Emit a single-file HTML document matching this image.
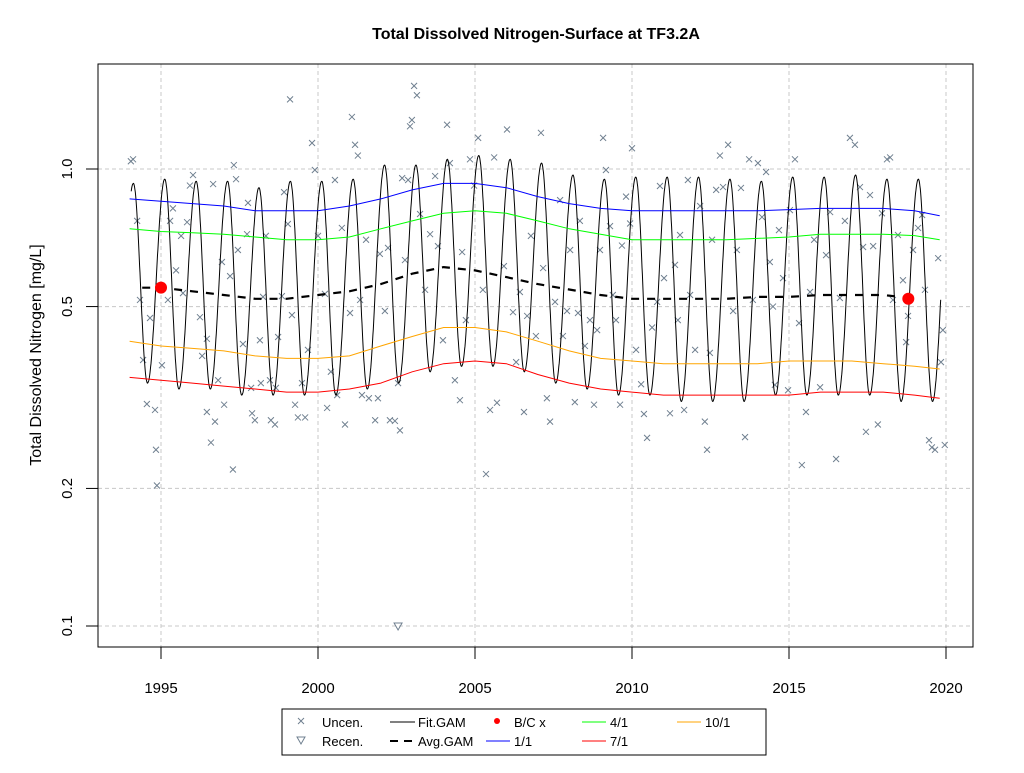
<!DOCTYPE html>
<html><head><meta charset="utf-8"><style>
body{margin:0;background:#fff;width:1024px;height:768px;overflow:hidden}
svg{font-family:"Liberation Sans",Arial,sans-serif}
</style></head><body>
<svg id="chart" width="1024" height="768" xmlns="http://www.w3.org/2000/svg">
<text x="536" y="39" text-anchor="middle" font-size="16" font-weight="bold">Total Dissolved Nitrogen-Surface at TF3.2A</text>
<text transform="translate(41,355) rotate(-90)" text-anchor="middle" font-size="16">Total Dissolved Nitrogen [mg/L]</text>
<g id="grid"></g>
<g id="axes"></g>
<g id="marks"></g>
<rect x="98" y="64" width="875" height="583" fill="none" stroke="#000" stroke-width="1"/>
<g>
<rect x="282" y="709" width="484" height="46" fill="#fff" stroke="#000"/>
<g><path d="M298,718 l6,6 M304,718 l-6,6" stroke="#708090"/><text x="322" y="727" font-size="13">Uncen.</text></g>
<g><path d="M297,737 h8 l-4,7 z" fill="none" stroke="#708090"/><text x="322" y="746" font-size="13">Recen.</text></g>
<g><line x1="390" y1="722" x2="415" y2="722" stroke="#000"/><text x="418" y="727" font-size="13">Fit.GAM</text></g>
<g><line x1="390" y1="741" x2="415" y2="741" stroke="#000" stroke-width="2" stroke-dasharray="8,6"/><text x="418" y="746" font-size="13">Avg.GAM</text></g>
<g><circle cx="497" cy="721" r="3" fill="#f00"/><text x="514" y="727" font-size="13">B/C x</text></g>
<g><line x1="486" y1="741" x2="510" y2="741" stroke="#00f"/><text x="514" y="746" font-size="13">1/1</text></g>
<g><line x1="582" y1="722" x2="606" y2="722" stroke="#0f0"/><text x="610" y="727" font-size="13">4/1</text></g>
<g><line x1="582" y1="741" x2="606" y2="741" stroke="#f00"/><text x="610" y="746" font-size="13">7/1</text></g>
<g><line x1="677" y1="722" x2="701" y2="722" stroke="#ffa500"/><text x="705" y="727" font-size="13">10/1</text></g>
</g>
</svg>
<script>
const xTicks=[1995,2000,2005,2010,2015,2020];
const yTicks=[0.1,0.2,0.5,1.0];
const yTickLabels=["0.1","0.2","0.5","1.0"];
const obsYears=[1994.04,1994.11,1994.24,1994.33,1994.43,1994.55,1994.65,1994.81,1994.84,1994.87,1995.03,1995.22,1995.29,1995.38,1995.48,1995.64,1995.70,1995.83,1995.92,1996.02,1996.24,1996.31,1996.46,1996.46,1996.59,1996.66,1996.72,1996.82,1996.94,1997.01,1997.20,1997.29,1997.32,1997.39,1997.45,1997.61,1997.74,1997.77,1997.87,1997.90,1997.99,1998.15,1998.18,1998.25,1998.34,1998.47,1998.50,1998.63,1998.66,1998.73,1998.85,1998.92,1999.04,1999.11,1999.17,1999.27,1999.36,1999.49,1999.59,1999.68,1999.81,1999.90,2000.00,2000.22,2000.29,2000.41,2000.54,2000.61,2000.76,2000.86,2001.02,2001.08,2001.18,2001.27,2001.34,2001.40,2001.53,2001.62,2001.82,2001.91,2001.97,2002.13,2002.23,2002.29,2002.45,2002.55,2002.61,2002.68,2002.77,2002.87,2002.93,2002.99,2003.06,2003.15,2003.25,2003.41,2003.57,2003.73,2003.82,2003.98,2004.11,2004.20,2004.36,2004.52,2004.59,2004.71,2004.84,2004.97,2005.10,2005.25,2005.35,2005.48,2005.61,2005.70,2005.92,2006.02,2006.21,2006.31,2006.43,2006.56,2006.66,2006.78,2006.94,2007.10,2007.17,2007.29,2007.39,2007.55,2007.71,2007.80,2007.93,2008.03,2008.18,2008.28,2008.34,2008.50,2008.66,2008.79,2008.89,2008.98,2009.08,2009.17,2009.30,2009.39,2009.49,2009.62,2009.68,2009.81,2009.94,2010.00,2010.13,2010.29,2010.38,2010.48,2010.64,2010.80,2010.89,2011.02,2011.21,2011.37,2011.46,2011.53,2011.66,2011.78,2011.85,2012.01,2012.17,2012.32,2012.39,2012.48,2012.55,2012.68,2012.80,2012.90,2013.06,2013.22,2013.34,2013.47,2013.60,2013.73,2013.85,2014.01,2014.14,2014.27,2014.39,2014.49,2014.55,2014.68,2014.81,2014.97,2015.03,2015.19,2015.32,2015.41,2015.54,2015.67,2015.80,2015.99,2016.18,2016.31,2016.50,2016.62,2016.78,2016.94,2017.10,2017.26,2017.36,2017.45,2017.58,2017.68,2017.83,2017.96,2018.12,2018.22,2018.31,2018.47,2018.63,2018.73,2018.79,2018.95,2019.11,2019.24,2019.33,2019.46,2019.55,2019.65,2019.75,2019.84,2019.90,2019.96];
const obsValues=[1.04,1.05,0.77,0.517,0.382,0.306,0.472,0.297,0.243,0.203,0.372,0.517,0.77,0.82,0.60,0.714,0.535,0.765,0.92,0.97,0.474,0.39,0.425,0.294,0.252,0.927,0.28,0.345,0.626,0.305,0.583,0.22,1.02,0.95,0.665,0.414,0.72,0.843,0.332,0.292,0.282,0.422,0.34,0.525,0.714,0.345,0.282,0.276,0.332,0.429,0.527,0.89,0.758,1.42,0.479,0.305,0.286,0.34,0.286,0.402,1.14,0.995,0.714,0.533,0.30,0.36,0.946,0.32,0.743,0.276,0.484,1.30,1.13,1.07,0.517,0.32,0.70,0.315,0.282,0.315,0.652,0.489,0.672,0.282,0.281,0.34,0.268,0.955,0.632,0.946,1.24,1.28,1.52,1.45,0.797,0.544,0.72,0.965,0.678,0.422,1.25,1.03,0.345,0.312,0.658,0.467,1.05,0.92,1.17,0.544,0.215,0.297,1.06,0.308,0.613,1.22,0.486,0.378,0.538,0.294,0.477,0.714,0.431,1.20,0.607,0.315,0.28,0.512,0.855,0.431,0.489,0.665,0.309,0.484,0.77,0.41,0.467,0.305,0.444,0.665,1.17,0.995,0.75,0.53,0.467,0.305,0.68,0.87,0.76,1.11,0.402,0.338,0.291,0.258,0.45,0.512,0.918,0.577,0.292,0.617,0.467,0.717,0.297,0.946,0.53,0.402,0.83,0.28,0.243,0.396,0.70,0.90,1.07,0.913,1.13,0.489,0.665,0.909,0.259,1.05,0.517,1.03,0.785,0.985,0.626,0.50,0.337,0.735,0.577,0.328,0.813,1.05,0.46,0.225,0.294,0.538,0.70,0.333,0.648,0.805,0.232,0.522,0.77,1.17,1.13,0.913,0.675,0.266,0.877,0.678,0.276,0.80,1.05,1.06,0.517,0.717,0.571,0.418,0.477,0.665,0.743,0.793,0.544,0.255,0.246,0.243,0.638,0.378,0.444,0.249];
const recenYears=[2002.55];
const recenValues=[0.1];
const bcYears=[1995.0,2018.8];
const bcValues=[0.55,0.52];
const fitYears=[1994,1995,1996,1997,1998,1999,2000,2001,2002,2003,2004,2005,2006,2007,2008,2009,2010,2011,2012,2013,2014,2015,2016,2017,2018,2019,2020];
const fitPeaks=[0.93,0.95,0.94,0.94,0.91,0.94,0.94,0.95,1.02,1.02,1.05,1.07,1.05,1.03,0.97,0.95,0.96,0.96,0.96,0.95,0.94,0.96,0.96,0.97,0.95,0.95,0.95];
const fitTroughs=[0.34,0.33,0.33,0.32,0.32,0.32,0.32,0.33,0.34,0.36,0.37,0.37,0.36,0.34,0.33,0.32,0.32,0.31,0.31,0.31,0.32,0.32,0.32,0.32,0.31,0.31,0.31];
const pctYears=[1994,1995,1996,1997,1998,1999,2000,2001,2002,2003,2004,2005,2006,2007,2008,2009,2010,2011,2012,2013,2014,2015,2016,2017,2018,2019,2019.8];
const q1=[0.86,0.85,0.84,0.83,0.81,0.81,0.81,0.83,0.86,0.90,0.93,0.93,0.91,0.87,0.84,0.82,0.81,0.81,0.81,0.81,0.81,0.815,0.82,0.82,0.82,0.81,0.79];
const q4=[0.74,0.73,0.725,0.72,0.71,0.70,0.70,0.71,0.74,0.77,0.80,0.81,0.80,0.77,0.74,0.72,0.70,0.70,0.70,0.70,0.705,0.71,0.72,0.72,0.72,0.715,0.70];
const q7=[0.35,0.345,0.34,0.335,0.33,0.325,0.325,0.33,0.34,0.36,0.375,0.38,0.375,0.355,0.34,0.33,0.325,0.32,0.32,0.32,0.32,0.32,0.325,0.325,0.325,0.32,0.315];
const q10=[0.42,0.41,0.405,0.40,0.39,0.385,0.385,0.39,0.41,0.43,0.45,0.45,0.44,0.42,0.40,0.385,0.38,0.375,0.375,0.375,0.375,0.38,0.38,0.38,0.375,0.37,0.365];
const avgYears=[1994.4,1995,1996,1997,1998,1999,2000,2001,2002,2003,2004,2005,2006,2007,2008,2009,2010,2011,2012,2013,2014,2015,2016,2017,2018,2019.1];
const avgValues=[0.55,0.55,0.54,0.53,0.52,0.52,0.53,0.54,0.56,0.59,0.61,0.60,0.58,0.56,0.545,0.53,0.52,0.52,0.52,0.52,0.525,0.525,0.53,0.53,0.53,0.52];

const NS="http://www.w3.org/2000/svg";
const X0=98,X1=973,Y0=64,Y1=647;
function xs(t){return 161+(t-1995)*31.4;}
function ys(v){return 169-Math.log10(v)*457;}
function mk(tag,attrs,parent){const e=document.createElementNS(NS,tag);for(const k in attrs)e.setAttribute(k,attrs[k]);parent.appendChild(e);return e;}
const grid=document.getElementById('grid'),axes=document.getElementById('axes'),marks=document.getElementById('marks');
xTicks.forEach(t=>{
  const g=mk('line',{x1:xs(t),x2:xs(t),y1:Y0,y2:Y1,stroke:'#c8c8c8','stroke-dasharray':'4,3'},grid);
  
  
  const tk=mk('line',{x1:xs(t),x2:xs(t),y1:Y1,y2:Y1+12,stroke:'#000'},axes);
  
  
  const l=mk('text',{x:xs(t),y:693,'text-anchor':'middle','font-size':15},axes);
  l.textContent=t;
  
  
});
yTicks.forEach((v,i)=>{
  const g=mk('line',{x1:X0,x2:X1,y1:ys(v),y2:ys(v),stroke:'#c8c8c8','stroke-dasharray':'4,3'},grid);
  
  
  const tk=mk('line',{x1:X0-12,x2:X0,y1:ys(v),y2:ys(v),stroke:'#000'},axes);
  
  
  const l=mk('text',{transform:`translate(72,${ys(v)}) rotate(-90)`,'text-anchor':'middle','font-size':15},axes);
  l.textContent=yTickLabels[i];
  
  
});
// observations
obsYears.forEach((t,i)=>{
  const x=xs(t),y=ys(obsValues[i]);
  const p=mk('path',{d:`M${x-3},${y-3}l6,6M${x+3},${y-3}l-6,6`,stroke:'#708090','stroke-width':1},marks);
  
  
});
recenYears.forEach((t,i)=>{
  const x=xs(t),y=ys(recenValues[i]);
  const p=mk('path',{d:`M${x-4},${y-3}h8l-4,7z`,fill:'none',stroke:'#708090'},marks);
  
  
});
function line(xsArr,vals,color,w,name,dash){
  const d=xsArr.map((t,i)=>(i?'L':'M')+xs(t).toFixed(1)+','+ys(vals[i]).toFixed(1)).join('');
  const p=mk('path',{d:d,fill:'none',stroke:color,'stroke-width':w},marks);
  if(dash)p.setAttribute('stroke-dasharray',dash);
  
  
}
// Fit GAM: cosine interpolation between annual peaks/troughs in log space
const kt=[],kv=[];
kt.push(fitYears[0]-0.43);kv.push(fitTroughs[0]);
fitYears.forEach((y,i)=>{kt.push(y+0.12);kv.push(fitPeaks[i]);kt.push(y+0.57);kv.push(fitTroughs[i]);});
const ft=[],fv=[];
for(let t=1994.05;t<=2019.83;t+=0.01){
  let j=0;while(j<kt.length-2&&kt[j+1]<t)j++;
  const f=(t-kt[j])/(kt[j+1]-kt[j]);
  const w=(1-Math.cos(Math.PI*f))/2;
  const lv=Math.log(kv[j])*(1-w)+Math.log(kv[j+1])*w;
  ft.push(t);fv.push(Math.exp(lv));
}
line(ft,fv,'#000',1,'fit-gam-line');
line(pctYears,q1,'#00f',1,'line-1-1');
line(pctYears,q4,'#0f0',1,'line-4-1');
line(pctYears,q10,'#ffa500',1,'line-10-1');
line(pctYears,q7,'#f00',1,'line-7-1');
line(avgYears,avgValues,'#000',2.2,'avg-gam-line','8,8');
bcYears.forEach((t,i)=>{
  const c=mk('circle',{cx:xs(t),cy:ys(bcValues[i]),r:6,fill:'#f00'},marks);
  
  
});
</script>
</body></html>
